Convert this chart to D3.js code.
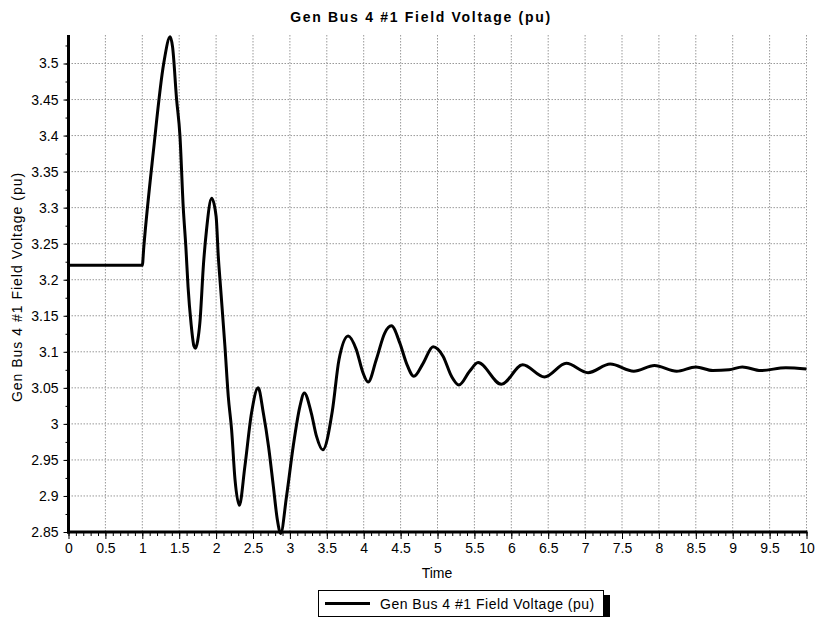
<html>
<script src='https://d3js.org/d3.v7.min.js'></script>
<style>
  body { margin: 0; background: #fff; }
  text { font-family: Arial, 'Liberation Sans', sans-serif; }
  .grid line { stroke: #999; stroke-width: 1; stroke-dasharray: 1.5,1.5; }
</style>
<body>
<svg width=815 height=617></svg>
<script>
// sampled from the plot: time (s) and field voltage (pu)
var times = [0, 1.0, 1.02, 1.15, 1.29, 1.378, 1.41, 1.465, 1.51, 1.555, 1.59, 1.62, 1.66, 1.70, 1.72, 1.75, 1.78, 1.83, 1.87, 1.94,
  2.0, 2.03, 2.06, 2.12, 2.165, 2.21, 2.256, 2.315, 2.39, 2.48, 2.57, 2.64, 2.71, 2.775, 2.83, 2.875, 2.955,
  3.045, 3.135, 3.195, 3.29, 3.36, 3.445, 3.575, 3.665, 3.79, 3.9, 3.99, 4.06, 4.17, 4.285, 4.375, 4.49, 4.58,
  4.68, 4.805, 4.94, 5.075, 5.19, 5.29, 5.435, 5.55, 5.865, 6.155, 6.45, 6.745, 7.04, 7.34, 7.66, 7.94, 8.24,
  8.5, 8.73, 8.95, 9.13, 9.38, 9.72, 10];
var volts = [3.22, 3.22, 3.245, 3.378, 3.50, 3.537, 3.523, 3.45, 3.40, 3.30, 3.246, 3.19, 3.14, 3.108, 3.105, 3.115, 3.14, 3.223, 3.269, 3.313,
  3.288, 3.232, 3.19, 3.107, 3.038, 2.992, 2.923, 2.887, 2.941, 3.015, 3.05, 3.015, 2.969, 2.914, 2.867, 2.848, 2.90,
  2.969, 3.024, 3.043, 3.015, 2.983, 2.964, 3.018, 3.089, 3.122, 3.103, 3.071, 3.058, 3.089, 3.126, 3.136, 3.112, 3.084,
  3.066, 3.084, 3.107, 3.094, 3.066, 3.054, 3.073, 3.085, 3.055, 3.082, 3.065, 3.084, 3.071, 3.083, 3.073, 3.081, 3.073,
  3.079, 3.074, 3.075, 3.079, 3.074, 3.078, 3.076];

var xTicks = d3.range(0, 10.01, 0.5);
var yTicks = [2.85, 2.9, 2.95, 3, 3.05, 3.1, 3.15, 3.2, 3.25, 3.3, 3.35, 3.4, 3.45, 3.5];
var title = 'Gen Bus 4 #1 Field Voltage (pu)';

var svg = d3.select('svg');
var plotLeft = 68.5, plotRight = 806.5, plotTop = 35, plotBottom = 532;

var x = d3.scaleLinear().domain([0, 10]).range([plotLeft, plotRight]);
var y = d3.scaleLinear().domain([2.85, 3.5]).range([plotBottom, 63.5]);

// grid
var grid = svg.append('g').attr('class', 'grid');
grid.selectAll('.gx').data(xTicks.slice(1)).enter().append('line')
  .attr('x1', d => x(d)).attr('x2', d => x(d)).attr('y1', plotTop).attr('y2', plotBottom);
grid.selectAll('.gy').data(yTicks).enter().append('line')
  .attr('x1', plotLeft).attr('x2', plotRight).attr('y1', d => y(d)).attr('y2', d => y(d));

// minor ticks
svg.append('g').attr('transform', 'translate(0,' + plotBottom + ')')
  .call(d3.axisBottom(x).tickValues(d3.range(0, 10.01, 0.1)).tickSize(4).tickFormat(''))
  .call(g => g.select('.domain').remove());
svg.append('g').attr('transform', 'translate(' + plotLeft + ',0)')
  .call(d3.axisLeft(y).tickValues(d3.range(2.85, 3.54, 0.025)).tickSize(3).tickFormat(''))
  .call(g => g.select('.domain').remove());

// major axes
svg.append('g').attr('transform', 'translate(0,' + plotBottom + ')')
  .call(d3.axisBottom(x).tickValues(xTicks).tickSize(7).tickPadding(4).tickFormat(d3.format('')))
  .call(g => g.select('.domain').remove())
  .selectAll('text').style('font-size', '14px').attr('fill', '#000');
svg.append('g').attr('transform', 'translate(' + plotLeft + ',0)')
  .call(d3.axisLeft(y).tickValues(yTicks).tickSize(5).tickPadding(5).tickFormat(d3.format('')))
  .call(g => g.select('.domain').remove())
  .selectAll('text').style('font-size', '14px').attr('fill', '#000');

svg.append('line').attr('x1', plotLeft).attr('x2', plotLeft).attr('y1', plotTop).attr('y2', plotBottom + 1.5)
  .attr('stroke', '#000').attr('stroke-width', 3);
svg.append('line').attr('x1', plotLeft - 1.5).attr('x2', plotRight + 1).attr('y1', plotBottom).attr('y2', plotBottom)
  .attr('stroke', '#000').attr('stroke-width', 3);

// series
var line = d3.line().x((d, i) => x(times[i])).y(d => y(d)).curve(d3.curveMonotoneX);
svg.append('path').datum(volts)
  .attr('fill', 'none').attr('stroke', '#000').attr('stroke-width', 3)
  .attr('stroke-linejoin', 'round').attr('d', line);

// titles
svg.append('text').attr('x', 421).attr('y', 22).attr('text-anchor', 'middle')
  .style('font-size', '14px').style('font-weight', 'bold').style('letter-spacing', '1.7px').text(title);
svg.append('text').attr('transform', 'translate(22,287) rotate(-90)').attr('text-anchor', 'middle')
  .style('font-size', '14px').style('letter-spacing', '1px').text(title);
svg.append('text').attr('x', 437).attr('y', 578).attr('text-anchor', 'middle')
  .style('font-size', '14px').text('Time');

// legend
svg.append('rect').attr('x', 325).attr('y', 595).attr('width', 285).attr('height', 26).attr('fill', '#000');
svg.append('rect').attr('x', 318.5).attr('y', 590.5).attr('width', 285).attr('height', 26)
  .attr('fill', '#fff').attr('stroke', '#000').attr('stroke-width', 1);
svg.append('line').attr('x1', 325).attr('x2', 370).attr('y1', 603.5).attr('y2', 603.5)
  .attr('stroke', '#000').attr('stroke-width', 3);
svg.append('text').attr('x', 380).attr('y', 609).style('font-size', '14px').style('letter-spacing', '0.5px').text(title);
</script>
</body>
</html>
